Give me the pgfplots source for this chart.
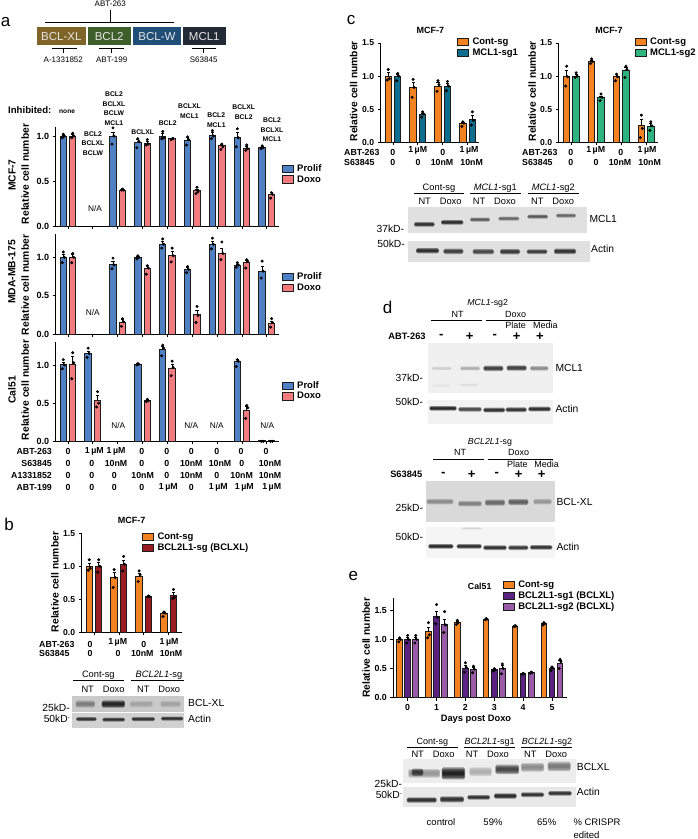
\documentclass[border=0pt]{standalone}
\usepackage{fontspec}
\setmainfont{Liberation Sans}
\usepackage{pgfplots}
\pgfplotsset{compat=1.18}
\newcommand{\fs}[1]{\fontsize{#1}{#1}\selectfont}
\definecolor{cblue}{HTML}{4F81C4}
\definecolor{cred}{HTML}{F27B80}
\definecolor{corange}{HTML}{F58220}
\definecolor{cdred}{HTML}{9B1B22}
\definecolor{cteal}{HTML}{0F6E8F}
\definecolor{cgreen}{HTML}{2FB380}
\definecolor{cdpur}{HTML}{5B2283}
\definecolor{clpur}{HTML}{9A5BA8}
\definecolor{cedge}{HTML}{1C1C1C}
\definecolor{dxl}{HTML}{7F6527}
\definecolor{dbcl}{HTML}{3F5F2A}
\definecolor{dw}{HTML}{1F4E79}
\definecolor{dmcl}{HTML}{222A35}
% text helpers: [anchor]{size}{x}{y}{text}
\newcommand{\R}[5][center]{\node[anchor=#1,inner sep=0pt,font=\fs{#2}] at (#3,#4) {#5};}
\newcommand{\B}[5][center]{\node[anchor=#1,inner sep=0pt,font=\bfseries\fs{#2}] at (#3,#4) {#5};}
\newcommand{\RL}[3]{\node[rotate=90,inner sep=0pt,font=\bfseries\fs{10.3}] at (#1,#2) {#3};}
\newcommand{\blot}[5]{\fill[#5] (#1,#2) rectangle (#3,#4);}
\newcommand{\band}[5]{%
 \fill[#5,opacity=0.4,rounded corners=1.5pt] (#1,#3-#4) rectangle (#2,#3+#4);
 \fill[#5,opacity=0.4,rounded corners=1.2pt] (#1+1,#3-0.75*#4) rectangle (#2-1,#3+0.75*#4);
 \fill[#5,opacity=0.4,rounded corners=0.9pt] (#1+2,#3-0.5*#4) rectangle (#2-2,#3+0.5*#4);
 \fill[#5,opacity=0.4,rounded corners=0.5pt] (#1+3,#3-0.25*#4) rectangle (#2-3,#3+0.25*#4);}
\pgfplotsset{
 ax/.style={scale only axis, axis x line=bottom, axis y line=left,
  axis line style={-,line width=0.9pt,black}, tick style={black,line width=0.8pt},
  tick align=outside, major tick length=3pt, clip=false, ymin=0,
  tick label style={font=\bfseries\fs{9}},
  /pgf/number format/assume math mode=true,
  /pgf/number format/fixed, /pgf/number format/fixed zerofill, /pgf/number format/precision=1,
  legend cell align=left,
  legend style={draw=none,fill=none,anchor=north west,inner sep=0pt,outer sep=0pt,
    font=\bfseries\fs{9.5},row sep=2.4pt,nodes={inner ysep=0pt,inner xsep=3.2pt}}},
 barp/.style={ybar,bar shift=0pt,bar width=#1,draw=cedge,line width=1pt,forget plot,
  /pgfplots/error bars/y dir=plus,/pgfplots/error bars/y explicit,
  /pgfplots/error bars/error bar style={line width=0.7pt,black},
  /pgfplots/error bars/error mark options={rotate=90,mark size=1.6pt,line width=0.7pt,black}},
 barp/.default=6.5pt,
 dots/.style={only marks,mark=*,mark size=1.3pt,black,mark options={fill=black,draw=black},forget plot},
 legbox/.style={legend image code/.code={\draw[line width=1pt,draw=cedge,##1] (0pt,-3.6pt) rectangle (11pt,3.6pt);}},
}
\begin{document}
\begin{tikzpicture}[x=1pt,y=-1pt]
\useasboundingbox (0,0) rectangle (698,839);
\fill[white] (0,0) rectangle (698,839);
% panel letters
\R{17}{5.5}{22}{a} \R{17}{9}{524}{b} \R{17}{351}{20.5}{c} \R{17}{387.7}{307}{d} \R{17}{353.3}{576.5}{e}
% ---- a : domain diagram
\fill[dxl] (37,27.3) rectangle (85.7,45.3);
\fill[dbcl] (87.7,27.3) rectangle (130.7,45.3);
\fill[dw] (133,27.3) rectangle (181,45.3);
\fill[dmcl] (183,27.3) rectangle (225.7,45.3);
\node[text=white!90!black,inner sep=0pt,font=\fs{11.5}] at (61.3,36.6) {BCL-XL};
\node[text=white!90!black,inner sep=0pt,font=\fs{11.5}] at (109.2,36.6) {BCL2};
\node[text=white!90!black,inner sep=0pt,font=\fs{11.5}] at (157,36.6) {BCL-W};
\node[text=white!90!black,inner sep=0pt,font=\fs{11.5}] at (204.3,36.6) {MCL1};
\R{8}{110.3}{3.7}{ABT-263}
\draw[line width=0.8pt] (45,22.7) -- (174,22.7) (110.3,10) -- (110.3,22.7);
\draw[line width=0.8pt] (51.7,48.3) -- (77.3,48.3) (63.3,48.3) -- (63.3,53.3);
\draw[line width=0.8pt] (99,48.3) -- (124,48.3) (111.7,48.3) -- (111.7,53.3);
\draw[line width=0.8pt] (191.7,48.3) -- (216,48.3) (203.7,48.3) -- (203.7,53.3);
\R{8}{63.3}{59.7}{A-1331852} \R{8}{111.7}{59.7}{ABT-199} \R{8}{203.7}{59.7}{S63845}
% ---- a : annotations
\B[west]{9.6}{8}{110.5}{Inhibited:} \B[west]{6.6}{59}{112}{none}
\B{6.8}{114}{94}{BCL2} \B{6.8}{114}{104}{BCLXL} \B{6.8}{114}{113.5}{BCLW} \B{6.8}{114}{123}{MCL1}
\B{6.8}{93}{134}{BCL2} \B{6.8}{93}{143.5}{BCLXL} \B{6.8}{93}{153}{BCLW}
\B{6.8}{142.7}{132}{BCLXL} \B{6.8}{167.7}{123}{BCL2}
\B{6.8}{189.5}{106}{BCLXL} \B{6.8}{189.5}{115.7}{MCL1}
\B{6.8}{216.3}{115.3}{BCL2} \B{6.8}{216.3}{125}{MCL1}
\B{6.8}{243.7}{107}{BCLXL} \B{6.8}{243.7}{116.7}{BCL2}
\B{6.8}{272}{120}{BCL2} \B{6.8}{272}{130}{BCLXL} \B{6.8}{272}{139.3}{MCL1}
\R{8.3}{95}{208.5}{N/A} \R{8.3}{92.7}{313}{N/A}
\R{8.3}{118.3}{425.7}{N/A} \R{8.3}{191.3}{425.7}{N/A} \R{8.3}{216.7}{425.7}{N/A} \R{8.3}{267.3}{425.7}{N/A}
\RL{12}{175}{MCF-7} \RL{25.3}{174}{Relative cell number}
\RL{12}{272}{MDA-MB-175} \RL{25.3}{285}{Relative cell number}
\RL{12}{390}{Cal51} \RL{25.3}{390}{Relative cell number}
% drug table a
\B[east]{8.8}{52}{451.3}{ABT-263} \B[east]{8.8}{52}{463.7}{S63845} \B[east]{8.8}{52}{475.7}{A1331852} \B[east]{8.8}{52}{487.7}{ABT-199}
\B{8.8}{68}{451.3}{0} \B{8.8}{94.3}{451.3}{1$\,$µM} \B{8.8}{116}{451.3}{1$\,$µM} \B{8.8}{141.7}{451.3}{0} \B{8.8}{166.7}{451.3}{0} \B{8.8}{191.3}{451.3}{0} \B{8.8}{216.7}{451.3}{0} \B{8.8}{241}{451.3}{0} \B{8.8}{266}{451.3}{0}
\B{8.8}{68}{463.7}{0} \B{8.8}{91.7}{463.7}{0} \B{8.8}{116}{463.7}{10nM} \B{8.8}{141.7}{463.7}{0} \B{8.8}{166.7}{463.7}{0} \B{8.8}{191.3}{463.7}{10nM} \B{8.8}{220}{463.7}{10nM} \B{8.8}{241.7}{463.7}{0} \B{8.8}{270}{463.7}{10nM}
\B{8.8}{68}{475.7}{0} \B{8.8}{91.7}{475.7}{0} \B{8.8}{114.3}{475.7}{0} \B{8.8}{142.7}{475.7}{10nM} \B{8.8}{166.7}{475.7}{0} \B{8.8}{191.3}{475.7}{10nM} \B{8.8}{216.7}{475.7}{0} \B{8.8}{241.7}{475.7}{10nM} \B{8.8}{270}{475.7}{10nM}
\B{8.8}{68}{487.7}{0} \B{8.8}{91.7}{487.7}{0} \B{8.8}{114.3}{487.7}{0} \B{8.8}{141.7}{487.7}{0} \B{8.8}{168.3}{487.7}{1$\,$µM} \B{8.8}{191.3}{487.7}{0} \B{8.8}{218.3}{487.7}{1$\,$µM} \B{8.8}{244.3}{487.7}{1$\,$µM} \B{8.8}{271.7}{487.7}{1$\,$µM}
% ---- b : annotations
\B{9}{131.7}{520.3}{MCF-7} \RL{55}{582}{Relative cell number}
\B[west]{8.8}{39}{644}{ABT-263} \B[west]{8.8}{39}{653}{S63845}
\B{8.8}{90}{644}{0} \B{8.8}{90}{653}{0} \B{8.8}{117.7}{642.7}{1$\,$µM} \B{8.8}{118}{653}{0} \B{8.8}{143.7}{644}{0} \B{8.8}{142.3}{653}{10nM} \B{8.8}{169}{642.7}{1$\,$µM} \B{8.8}{171}{653}{10nM}
% ---- c : annotations
\B{9}{430.3}{30.3}{MCF-7} \B{9}{609}{30.3}{MCF-7}
\RL{353.7}{91.2}{Relative cell number} \RL{532.3}{91.2}{Relative cell number}
\B[west]{8.8}{344}{152.3}{ABT-263} \B[west]{8.8}{344}{162}{S63845}
\B{8.8}{392.7}{152.3}{0} \B{8.8}{392.7}{162}{0} \B{8.8}{417.7}{150.7}{1$\,$µM} \B{8.8}{418}{162}{0} \B{8.8}{442.7}{152.3}{0} \B{8.8}{442}{162}{10nM} \B{8.8}{469}{150.7}{1$\,$µM} \B{8.8}{471.7}{162}{10nM}
\B[west]{8.8}{522}{152.3}{ABT-263} \B[west]{8.8}{522}{162}{S63845}
\B{8.8}{570.7}{152.3}{0} \B{8.8}{570.7}{162}{0} \B{8.8}{595.7}{150.7}{1$\,$µM} \B{8.8}{596}{162}{0} \B{8.8}{620.7}{152.3}{0} \B{8.8}{620}{162}{10nM} \B{8.8}{647}{150.7}{1$\,$µM} \B{8.8}{649.7}{162}{10nM}
% ---- e : annotations
\B{8.8}{479.7}{586}{Cal51} \RL{366.3}{647.7}{Relative cell number} \B{9.3}{476}{719.3}{Days post Doxo}
% ---- blot b
\R{9.3}{98.3}{675.7}{Cont-sg} \R{9.3}{159}{675.7}{\textit{BCL2L1}-sg}
\draw[line width=0.8pt] (73,680.3) -- (124,680.3) (131,680.3) -- (184,680.3);
\R{9.3}{87.7}{689.7}{NT} \R{9.3}{113.7}{689.7}{Doxo} \R{9.3}{143.3}{689.7}{NT} \R{9.3}{169.3}{689.7}{Doxo}
\begin{scope}[x=0.33333pt,y=-0.33333pt,shift={(0pt,-500pt)}]
\blot{215}{587}{552}{635}{black!21}
\band{227}{285}{612}{10}{black!55}\band{305}{375}{612}{11}{black!95}\band{390}{458}{612}{9}{black!38}\band{482}{542}{612}{9}{black!38}
\blot{215}{640}{552}{684}{black!18}
\band{228}{290}{657}{6}{black!90}\band{307}{375}{659}{6}{black!90}\band{395}{465}{657}{6}{black!90}\band{483}{550}{656}{6}{black!90}
\end{scope}
\R[west]{10.3}{188}{702.7}{BCL-XL} \R[west]{10.3}{188}{719.3}{Actin}
\R[east]{10.3}{70}{708.3}{25kD-} \R[east]{10.3}{70}{718.7}{50kD\raisebox{3pt}{\fs{6}-}}
% ---- blot c
\R{9.3}{439}{188.7}{Cont-sg} \R{9.3}{495.3}{188.7}{\textit{MCL1}-sg1} \R{9.3}{553.3}{188.7}{\textit{MCL1}-sg2}
\draw[line width=0.8pt] (414,193.7) -- (464.3,193.7) (470,193.7) -- (520.7,193.7) (527.7,193.7) -- (578.7,193.7);
\R{9.3}{424.7}{201}{NT} \R{9.3}{450.7}{201}{Doxo} \R{9.3}{479}{201}{NT} \R{9.3}{505}{201}{Doxo} \R{9.3}{537.3}{201}{NT} \R{9.3}{563.3}{201}{Doxo}
\begin{scope}[x=0.33333pt,y=-0.33333pt,shift={(340pt,0pt)}]
\blot{203}{622}{741}{698}{black!12}
\band{222}{284}{673}{7}{black!90}\band{303}{370}{667}{7}{black!92}\band{390}{450}{659}{6}{black!70}\band{475}{538}{656}{6}{black!65}\band{562}{624}{650}{6}{black!72}\band{648}{708}{647}{6}{black!65}
\blot{203}{722}{749}{786}{black!12}
\band{228}{297}{752}{8}{black!92}\band{310}{370}{754}{8}{black!85}\band{398}{462}{755}{8}{black!80}\band{480}{540}{755}{8}{black!88}\band{560}{622}{755}{7}{black!85}\band{642}{708}{754}{8}{black!90}
\end{scope}
\R[west]{10.3}{589.3}{219.3}{MCL1} \R[west]{10.3}{591}{248.7}{Actin}
\R[east]{10.3}{404.3}{229.3}{37kD-} \R[east]{10.3}{405}{243.7}{50kD-}
% ---- blots d
\R{8.8}{487.7}{303}{\textit{MCL1}-sg2} \R{9}{457.7}{314}{NT} \R{9}{515.7}{314}{Doxo}
\draw[line width=0.8pt] (431.3,320.7) -- (482,320.7) (485.7,320.7) -- (550.7,320.7);
\R{9}{515.7}{325.7}{Plate} \R{9}{545.3}{325.7}{Media}
\B{9.3}{407}{336.3}{ABT-263}
\B{13}{441.3}{336.5}{-} \B{13}{469.7}{336.5}{+} \B{13}{494.7}{336.5}{-} \B{13}{516.7}{336.5}{+} \B{13}{540}{336.5}{+}
\begin{scope}[x=0.33333pt,y=-0.33333pt,shift={(340pt,-290pt)}]
\blot{265}{158}{638}{308}{black!6}
\band{275}{335}{235}{5}{black!20}\band{360}{420}{235}{6}{black!35}\band{430}{490}{235}{8}{black!85}\band{500}{560}{234}{8}{black!85}\band{570}{625}{235}{7}{black!50}
\band{275}{330}{287}{4}{black!11}\band{360}{415}{285}{4}{black!14}
\blot{265}{330}{638}{403}{black!5}
\band{268}{350}{355}{7}{black!95}\band{355}{425}{358}{7}{black!80}\band{430}{495}{360}{7}{black!92}\band{497}{560}{359}{7}{black!90}\band{565}{632}{357}{7}{black!92}
\end{scope}
\R[west]{10.3}{555.3}{368}{MCL1} \R[west]{10.3}{555.3}{409}{Actin}
\R[east]{10.3}{423.3}{377.7}{37kD-} \R[east]{10.3}{423.3}{402.3}{50kD-}
\R{8.8}{490}{442}{\textit{BCL2L1}-sg} \R{9}{460}{452}{NT} \R{9}{518.7}{452}{Doxo}
\draw[line width=0.8pt] (433.3,459) -- (484,459) (487.7,459) -- (552.7,459);
\R{9}{517.3}{464.3}{Plate} \R{9}{546.7}{464.3}{Media}
\B{9.3}{406.3}{474}{S63845}
\B{13}{443.3}{474.2}{-} \B{13}{471.7}{474.2}{+} \B{13}{496.7}{474.2}{-} \B{13}{518.7}{474.2}{+} \B{13}{541.7}{474.2}{+}
\begin{scope}[x=0.33333pt,y=-0.33333pt,shift={(340pt,-290pt)}]
\blot{258}{573}{645}{696}{black!15}
\band{260}{340}{635}{8}{black!50}\band{355}{425}{641}{8}{black!55}\band{435}{495}{638}{9}{black!65}\band{505}{565}{636}{9}{black!70}\band{580}{635}{635}{8}{black!45}
\blot{258}{712}{645}{805}{black!4}
\band{365}{425}{715}{3}{black!18}
\band{265}{340}{769}{7}{black!95}\band{350}{425}{769}{7}{black!92}\band{430}{500}{773}{7}{black!92}\band{505}{565}{773}{7}{black!88}\band{570}{637}{772}{7}{black!90}
\end{scope}
\R[west]{10.3}{556.3}{502.3}{BCL-XL} \R[west]{10.3}{556.3}{547.3}{Actin}
\R[east]{10.3}{423.3}{508}{25kD-} \R[east]{10.3}{423.3}{536.7}{50kD-}
% ---- blot e
\R{9}{432.3}{742.3}{Cont-sg} \R{9}{489.7}{742.3}{\textit{BCL2L1}-sg1} \R{9}{547}{742.3}{\textit{BCL2L1}-sg2}
\draw[line width=0.8pt] (406.7,747.7) -- (458,747.7) (463.7,747.7) -- (514.7,747.7) (521,747.7) -- (571.7,747.7);
\R{9.3}{417.7}{754}{NT} \R{9.3}{443.7}{754}{Doxo} \R{9.3}{472}{754}{NT} \R{9.3}{498}{754}{Doxo} \R{9.3}{530.3}{754}{NT} \R{9.3}{556.3}{754}{Doxo}
\begin{scope}[x=0.33333pt,y=-0.33333pt,shift={(340pt,-560pt)}]
\blot{190}{598}{707}{668}{black!7}
\band{205}{300}{640}{13}{black!45}\band{215}{250}{637}{11}{black!85}\band{305}{375}{640}{18}{black!98}\band{388}{455}{635}{13}{black!35}\band{466}{537}{628}{14}{black!80}\band{543}{612}{622}{13}{black!50}\band{623}{692}{619}{14}{black!58}
\blot{190}{682}{707}{740}{black!9}
\band{200}{290}{720}{8}{black!92}\band{300}{372}{718}{9}{black!90}\band{382}{450}{712}{7}{black!90}\band{462}{530}{708}{8}{black!95}\band{543}{612}{704}{7}{black!90}\band{625}{695}{700}{7}{black!90}
\end{scope}
\R[west]{10.3}{576.7}{767.3}{BCLXL} \R[west]{10.3}{576.7}{792.3}{Actin}
\R[east]{10.3}{402.3}{783.7}{25kD-} \R[east]{10.3}{402}{794.7}{50kD\raisebox{3pt}{\fs{6}-}}
\R{9.5}{441}{822.3}{control} \R{9.5}{493}{822.3}{59\%} \R{9.5}{546.7}{822.3}{65\%}
\R[west]{9.5}{573.3}{822.3}{\% CRISPR} \R[west]{9.5}{573.3}{835}{edited}

% ================ AXES ================
% a MCF-7
\begin{axis}[ax,at={(55.7pt,-226pt)},anchor=south west,width=223.6pt,height=99pt,
 xmin=-0.495,xmax=8.5,ymax=1.1,xtick={0,...,8},xticklabels={},ytick={0,0.5,1},
 legend style={at={(1.012,0.62)}}]
\addplot[barp,fill=cblue] coordinates {(-0.19,1.00) +- (0,0.012) (1.81,0.99) +- (0,0.05) (2.81,0.93) +- (0,0.03) (3.81,1.00) +- (0,0.025) (4.81,0.95) +- (0,0.03) (5.81,1.01) +- (0,0.03) (6.81,0.98) +- (0,0.06) (7.81,0.87) +- (0,0.01)};
\addplot[barp,fill=cred] coordinates {(0.19,1.00) +- (0,0.015) (2.19,0.40) +- (0,0.003) (3.19,0.92) +- (0,0.02) (4.19,0.97) +- (0,0.004) (5.19,0.39) +- (0,0.02) (6.19,0.89) +- (0,0.02) (7.19,0.86) +- (0,0.02) (8.19,0.35) +- (0,0.02)};
\addplot[dots] coordinates {(-0.19,1.02)(-0.15,1.00)(-0.23,0.98)(1.81,1.09)(1.85,1.00)(1.77,0.91)(2.81,0.97)(2.85,0.94)(2.77,0.87)(3.81,1.05)(3.85,0.98)(3.77,0.97)(4.81,0.99)(4.85,0.96)(4.77,0.90)(5.81,1.06)(5.85,1.00)(5.77,0.97)(6.81,1.08)(6.85,0.98)(6.77,0.88)(7.81,0.89)(7.85,0.87)(7.77,0.86)};
\addplot[dots] coordinates {(0.19,1.03)(0.23,1.00)(0.15,0.98)(2.19,0.41)(2.23,0.40)(2.15,0.40)(3.19,0.96)(3.23,0.91)(3.15,0.90)(4.19,0.97)(4.23,0.97)(4.15,0.96)(5.19,0.43)(5.23,0.38)(5.15,0.36)(6.19,0.91)(6.23,0.88)(6.15,0.85)(7.19,0.90)(7.23,0.86)(7.15,0.84)(8.19,0.37)(8.23,0.35)(8.15,0.31)};
\addlegendimage{legbox,fill=cblue}\addlegendentry{Prolif}
\addlegendimage{legbox,fill=cred}\addlegendentry{Doxo}
\end{axis}
% a MDA
\begin{axis}[ax,at={(55.7pt,-334pt)},anchor=south west,width=223.6pt,height=100pt,
 xmin=-0.495,xmax=8.5,ymax=1.304,xtick={0,...,8},xticklabels={},ytick={0,0.5,1},
 legend style={at={(1.012,0.612)}}]
\addplot[barp,fill=cblue] coordinates {(-0.19,1.00) +- (0,0.04) (1.81,0.91) +- (0,0.04) (2.81,1.00) +- (0,0.012) (3.81,1.17) +- (0,0.035) (4.81,0.84) +- (0,0.025) (5.81,1.17) +- (0,0.04) (6.81,0.89) +- (0,0.015) (7.81,0.82) +- (0,0.06)};
\addplot[barp,fill=cred] coordinates {(0.19,1.00) +- (0,0.035) (2.19,0.155) +- (0,0.03) (3.19,0.86) +- (0,0.03) (4.19,1.03) +- (0,0.05) (5.19,0.25) +- (0,0.06) (6.19,1.05) +- (0,0.065) (7.19,0.93) +- (0,0.03) (8.19,0.14) +- (0,0.03)};
\addplot[dots] coordinates {(-0.19,1.07)(-0.15,1.00)(-0.23,0.93)(1.81,0.99)(1.85,0.90)(1.77,0.85)(2.81,1.02)(2.85,1.00)(2.77,0.98)(3.81,1.24)(3.85,1.17)(3.77,1.12)(4.81,0.88)(4.85,0.84)(4.77,0.80)(5.81,1.25)(5.85,1.17)(5.77,1.11)(6.81,0.93)(6.85,0.90)(6.77,0.87)(7.81,0.95)(7.85,0.82)(7.77,0.73)};
\addplot[dots] coordinates {(0.19,1.05)(0.23,1.00)(0.15,0.93)(2.19,0.20)(2.23,0.16)(2.15,0.10)(3.19,0.89)(3.23,0.86)(3.15,0.78)(4.19,1.12)(4.23,1.02)(4.15,0.94)(5.19,0.36)(5.23,0.24)(5.15,0.15)(6.19,1.20)(6.23,1.05)(6.15,0.97)(7.19,0.97)(7.23,0.95)(7.15,0.86)(8.19,0.20)(8.23,0.15)(8.15,0.09)};
\addlegendimage{legbox,fill=cblue}\addlegendentry{Prolif}
\addlegendimage{legbox,fill=cred}\addlegendentry{Doxo}
\end{axis}
% a Cal51
\begin{axis}[ax,at={(55.7pt,-441.3pt)},anchor=south west,width=223.6pt,height=99.6pt,
 xmin=-0.495,xmax=8.5,ymax=1.305,xtick={0,...,8},xticklabels={},ytick={0,0.5,1},
 legend style={at={(1.012,0.60)}}]
\addplot[barp,fill=cblue] coordinates {(-0.19,1.00) +- (0,0.04) (0.81,1.15) +- (0,0.035) (2.81,1.01) +- (0,0.006) (3.81,1.20) +- (0,0.04) (6.81,1.04) +- (0,0.03) (7.81,0.005) +- (0,0)};
\addplot[barp,fill=cred] coordinates {(0.19,1.01) +- (0,0.10) (1.19,0.54) +- (0,0.06) (3.19,0.53) +- (0,0.01) (4.19,0.95) +- (0,0.055) (7.19,0.41) +- (0,0.05) (8.19,0.005) +- (0,0)};
\addplot[dots] coordinates {(-0.19,1.07)(-0.15,1.00)(-0.23,0.95)(0.81,1.22)(0.85,1.15)(0.77,1.10)(2.81,1.02)(2.85,1.01)(2.77,1.00)(3.81,1.26)(3.85,1.22)(3.77,1.12)(6.81,1.07)(6.85,1.05)(6.77,0.98)(7.85,0.00)(7.77,0.00)};
\addplot[dots] coordinates {(0.19,1.16)(0.23,1.03)(0.15,0.82)(1.19,0.65)(1.23,0.50)(1.15,0.45)(3.19,0.55)(3.23,0.53)(3.15,0.52)(4.19,1.05)(4.23,0.97)(4.15,0.86)(7.19,0.47)(7.23,0.44)(7.15,0.30)(8.23,0.00)(8.15,0.00)};
\addlegendimage{legbox,fill=cblue}\addlegendentry{Prolf}
\addlegendimage{legbox,fill=cred}\addlegendentry{Doxo}
\end{axis}
% b
\begin{axis}[ax,at={(81.7pt,-632.3pt)},anchor=south west,width=100pt,height=99pt,
 xmin=-0.494,xmax=3.52,ymax=1.5,xtick={0,1,2,3},xticklabels={},ytick={0,0.5,1,1.5},
 tick label style={font=\bfseries\fs{8.6}},
 legend style={at={(0.606,1.003)}}]
\addplot[barp,fill=corange] coordinates {(-0.19,1.00) +- (0,0.05) (0.81,0.83) +- (0,0.08) (1.81,0.85) +- (0,0.05) (2.81,0.28) +- (0,0.02)};
\addplot[barp,fill=cdred] coordinates {(0.19,1.00) +- (0,0.055) (1.19,1.03) +- (0,0.065) (2.19,0.54) +- (0,0.005) (3.19,0.56) +- (0,0.04)};
\addplot[dots] coordinates {(-0.19,1.10)(-0.15,0.97)(-0.23,0.94)(0.81,0.95)(0.85,0.83)(0.77,0.68)(1.81,0.93)(1.85,0.87)(1.77,0.77)(2.81,0.31)(2.85,0.29)(2.77,0.24)};
\addplot[dots] coordinates {(0.19,1.10)(0.23,1.00)(0.15,0.91)(1.19,1.15)(1.23,1.03)(1.15,0.93)(2.19,0.55)(2.23,0.54)(2.15,0.54)(3.19,0.65)(3.23,0.53)(3.15,0.51)};
\addlegendimage{legbox,fill=corange}\addlegendentry{Cont-sg}
\addlegendimage{legbox,fill=cdred}\addlegendentry{BCL2L1-sg (BCLXL)}
\end{axis}
% c left
\begin{axis}[ax,at={(380.7pt,-142.3pt)},anchor=south west,width=98.6pt,height=99.3pt,
 xmin=-0.494,xmax=3.47,ymax=1.5,xtick={0,1,2,3},xticklabels={},ytick={0,0.5,1,1.5},
 tick label style={font=\bfseries\fs{8.6}},
 legend style={at={(0.777,1.05)}}]
\addplot[barp,fill=corange] coordinates {(-0.19,1.00) +- (0,0.05) (0.81,0.83) +- (0,0.08) (1.81,0.85) +- (0,0.05) (2.81,0.28) +- (0,0.02)};
\addplot[barp,fill=cteal] coordinates {(0.19,1.00) +- (0,0.03) (1.19,0.42) +- (0,0.02) (2.19,0.85) +- (0,0.04) (3.19,0.35) +- (0,0.06)};
\addplot[dots] coordinates {(-0.19,1.10)(-0.15,0.96)(-0.23,0.94)(0.81,0.95)(0.85,0.83)(0.77,0.68)(1.81,0.93)(1.85,0.87)(1.77,0.77)(2.81,0.31)(2.85,0.29)(2.77,0.24)};
\addplot[dots] coordinates {(0.19,1.04)(0.23,1.00)(0.15,0.93)(1.19,0.46)(1.23,0.43)(1.15,0.38)(2.19,0.92)(2.23,0.85)(2.15,0.78)(3.19,0.46)(3.23,0.33)(3.15,0.26)};
\addlegendimage{legbox,fill=corange}\addlegendentry{Cont-sg}
\addlegendimage{legbox,fill=cteal}\addlegendentry{MCL1-sg1}
\end{axis}
% c right
\begin{axis}[ax,at={(558.7pt,-142.3pt)},anchor=south west,width=99.6pt,height=99.3pt,
 xmin=-0.51,xmax=3.49,ymax=1.5,xtick={0,1,2,3},xticklabels={},ytick={0,0.5,1,1.5},
 tick label style={font=\bfseries\fs{8.6}},
 legend style={at={(0.766,1.05)}}]
\addplot[barp,fill=corange] coordinates {(-0.19,1.00) +- (0,0.09) (0.81,1.22) +- (0,0.02) (1.81,0.99) +- (0,0.03) (2.81,0.25) +- (0,0.10)};
\addplot[barp,fill=cgreen] coordinates {(0.19,1.00) +- (0,0.03) (1.19,0.67) +- (0,0.03) (2.19,1.08) +- (0,0.05) (3.19,0.24) +- (0,0.04)};
\addplot[dots] coordinates {(-0.19,1.15)(-0.15,0.99)(-0.23,0.85)(0.81,1.26)(0.85,1.22)(0.77,1.19)(1.81,1.03)(1.85,0.99)(1.77,0.93)(2.81,0.41)(2.85,0.21)(2.77,0.07)};
\addplot[dots] coordinates {(0.19,1.05)(0.23,1.00)(0.15,0.98)(1.19,0.73)(1.23,0.68)(1.15,0.63)(2.19,1.15)(2.23,1.10)(2.15,0.98)(3.19,0.31)(3.23,0.25)(3.15,0.18)};
\addlegendimage{legbox,fill=corange}\addlegendentry{Cont-sg}
\addlegendimage{legbox,fill=cgreen}\addlegendentry{MCL1-sg2}
\end{axis}
% e
\begin{axis}[ax,at={(393.3pt,-697.7pt)},anchor=south west,width=173.4pt,height=99.4pt,
 xmin=-0.498,xmax=5.51,ymax=1.708,xtick={0,...,5},xticklabels={0,1,2,3,4,5},ytick={0,0.5,1,1.5},
 tick label style={font=\bfseries\fs{8.8}},
 legend style={at={(0.633,1.173)}}]
\addplot[barp=5.6pt,fill=corange] coordinates {(-0.28,1.00) +- (0,0.02) (0.72,1.13) +- (0,0.08) (1.72,1.29) +- (0,0.025) (2.72,1.35) +- (0,0.006) (3.72,1.23) +- (0,0.006) (4.72,1.27) +- (0,0.015)};
\addplot[barp=5.6pt,fill=cdpur] coordinates {(0,1.00) +- (0,0.04) (1,1.39) +- (0,0.10) (2,0.51) +- (0,0.05) (3,0.48) +- (0,0.012) (4,0.41) +- (0,0.006) (5,0.51) +- (0,0.02)};
\addplot[barp=5.6pt,fill=clpur] coordinates {(0.28,1.00) +- (0,0.04) (1.28,1.25) +- (0,0.10) (2.28,0.49) +- (0,0.03) (3.28,0.50) +- (0,0.05) (4.28,0.43) +- (0,0.006) (5.28,0.59) +- (0,0.05)};
\addplot[dots] coordinates {(-0.28,1.03)(-0.25,1.00)(-0.31,0.96)(0.72,1.29)(0.75,1.08)(0.69,1.03)(1.72,1.33)(1.75,1.29)(1.69,1.26)(2.72,1.36)(2.75,1.35)(2.69,1.34)(3.72,1.24)(3.75,1.23)(3.69,1.22)(4.72,1.29)(4.75,1.27)(4.69,1.25)};
\addplot[dots] coordinates {(0,1.07)(0.03,1.00)(-0.03,0.94)(1,1.60)(1.03,1.38)(0.97,1.27)(2,0.60)(2.03,0.52)(1.97,0.44)(3,0.50)(3.03,0.48)(2.97,0.46)(4,0.42)(4.03,0.41)(3.97,0.40)(5,0.53)(5.03,0.51)(4.97,0.47)};
\addplot[dots] coordinates {(0.28,1.07)(0.31,1.00)(0.25,0.94)(1.28,1.48)(1.31,1.25)(1.25,1.12)(2.28,0.54)(2.31,0.49)(2.25,0.43)(3.28,0.58)(3.31,0.50)(3.25,0.41)(4.28,0.44)(4.31,0.43)(4.25,0.42)(5.28,0.66)(5.31,0.62)(5.25,0.50)};
\addlegendimage{legbox,fill=corange}\addlegendentry{Cont-sg}
\addlegendimage{legbox,fill=cdpur}\addlegendentry{BCL2L1-sg1 (BCLXL)}
\addlegendimage{legbox,fill=clpur}\addlegendentry{BCL2L1-sg2 (BCLXL)}
\end{axis}
\end{tikzpicture}
\end{document}
